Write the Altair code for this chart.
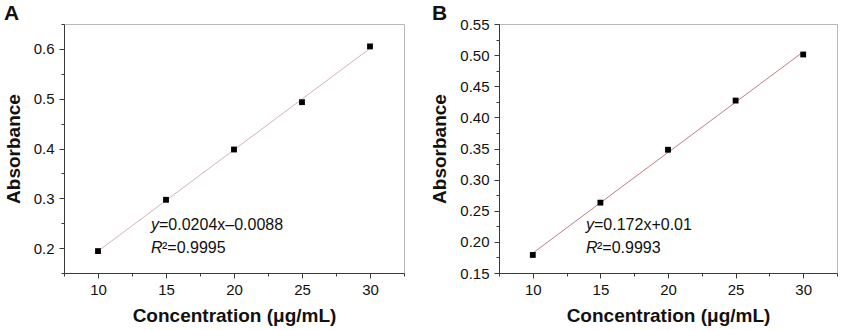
import altair as alt
import pandas as pd

# ---- data ----
concentration = [10, 15, 20, 25, 30]
absorbance_a = [0.194, 0.297, 0.398, 0.493, 0.605]
absorbance_b = [0.179, 0.263, 0.348, 0.427, 0.501]

x_ticks = [7.5, 10, 12.5, 15, 17.5, 20, 22.5, 25, 27.5, 30, 32.5]
y_ticks_a = [0.15, 0.2, 0.25, 0.3, 0.35, 0.4, 0.45, 0.5, 0.55, 0.6, 0.65]
y_ticks_b = [0.15, 0.175, 0.2, 0.225, 0.25, 0.275, 0.3, 0.325, 0.35, 0.375,
             0.4, 0.425, 0.45, 0.475, 0.5, 0.525, 0.55]

eq_a = ["y", "=0.0204x\u20130.0088", "R", "\u00b2=0.9995"]
eq_b = ["y", "=0.172x+0.01", "R", "\u00b2=0.9993"]
panel_labels = ["A", "B"]
x_title = "Concentration (\u03bcg/mL)"
y_title = "Absorbance"

FONT = "Liberation Sans"
AX = "#3a3a3a"


def minor_test(mult):
    return f"abs(datum.value*{mult} - round(datum.value*{mult})) > 0.001"


def x_axis():
    return alt.Axis(
        values=x_ticks,
        tickCount=100,
        format=".0f",
        labelExpr=f"{minor_test('0.2')} ? '' : datum.label",
        labelOverlap=False,
        tickSize={"condition": {"test": minor_test("0.2"), "value": 3}, "value": 5},
        labelPadding=4,
        titlePadding=9,
        title=x_title,
    )


def y_axis(ticks, mult, fmt):
    return alt.Axis(
        values=ticks,
        tickCount=100,
        format=fmt,
        labelExpr=f"{minor_test(mult)} ? '' : datum.label",
        labelOverlap=False,
        tickSize={"condition": {"test": minor_test(mult), "value": 3}, "value": 5},
        labelPadding=5,
        titlePadding=10,
        title=y_title,
    )


tdf = pd.DataFrame({"t": [0]})


def txt(s, x, y, italic=False, size=16, weight="normal"):
    return alt.Chart(tdf).mark_text(
        align="left", baseline="alphabetic", font=FONT, fontSize=size,
        fontStyle="italic" if italic else "normal", fontWeight=weight, color="#111",
    ).encode(x=alt.value(x), y=alt.value(y), text=alt.value(s))


def anchor(x, y):
    # invisible layout helper fixing the outer extent of the figure
    return alt.Chart(tdf).mark_rule(opacity=0, strokeWidth=1).encode(
        x=alt.value(x), x2=alt.value(x), y=alt.value(y), y2=alt.value(y + 1)
    )


def panel(values, ticks, mult, fmt, ydom, line_color, eq, label, lab_x, width, anchor_layer):
    df = pd.DataFrame({"c": concentration, "a": values})
    xs = alt.Scale(domain=[7.5, 32.5], nice=False, zero=False)
    ys = alt.Scale(domain=ydom, nice=False, zero=False)
    base = alt.Chart(df)
    line = base.mark_line(color=line_color, strokeWidth=1).transform_regression(
        "c", "a"
    ).encode(
        x=alt.X("c:Q", scale=xs, axis=x_axis()),
        y=alt.Y("a:Q", scale=ys, axis=y_axis(ticks, mult, fmt)),
    )
    pts = base.mark_point(shape="square", filled=True, color="black", size=34, opacity=1).encode(
        x=alt.X("c:Q", scale=xs),
        y=alt.Y("a:Q", scale=ys),
    )
    ex = 87
    layers = [
        line, pts,
        txt(eq[0], ex, 206, italic=True),
        txt(eq[1], ex + 8, 206),
        txt(eq[2], ex, 229, italic=True),
        txt(eq[3], ex + 11, 229),
        txt(label, lab_x, -4.5, size=21, weight="bold"),
        anchor_layer,
    ]
    return alt.layer(*layers).properties(width=width, height=249)


pa = panel(absorbance_a, y_ticks_a, "10", ".1f", [0.15, 0.65], "#d6b4b4", eq_a,
           panel_labels[0], -60, 340, anchor(-63.5, -23.5))
pb = panel(absorbance_b, y_ticks_b, "20", ".2f", [0.15, 0.55], "#c47c84", eq_b,
           panel_labels[1], -67, 338, anchor(350.5, 304.5))

chart = alt.hconcat(pa, pb, spacing=95, bounds="flush").properties(
    padding=0,
).configure_view(
    stroke="#b8b8b8", strokeWidth=1
).configure_axis(
    grid=False,
    domainColor=AX,
    tickColor=AX,
    labelColor="#111",
    titleColor="#111",
    labelFont=FONT,
    titleFont=FONT,
    labelFontSize=15,
    titleFontSize=19,
    titleFontWeight="bold",
)

chart.save("out.html", embed_options={"renderer": "svg", "actions": False})
